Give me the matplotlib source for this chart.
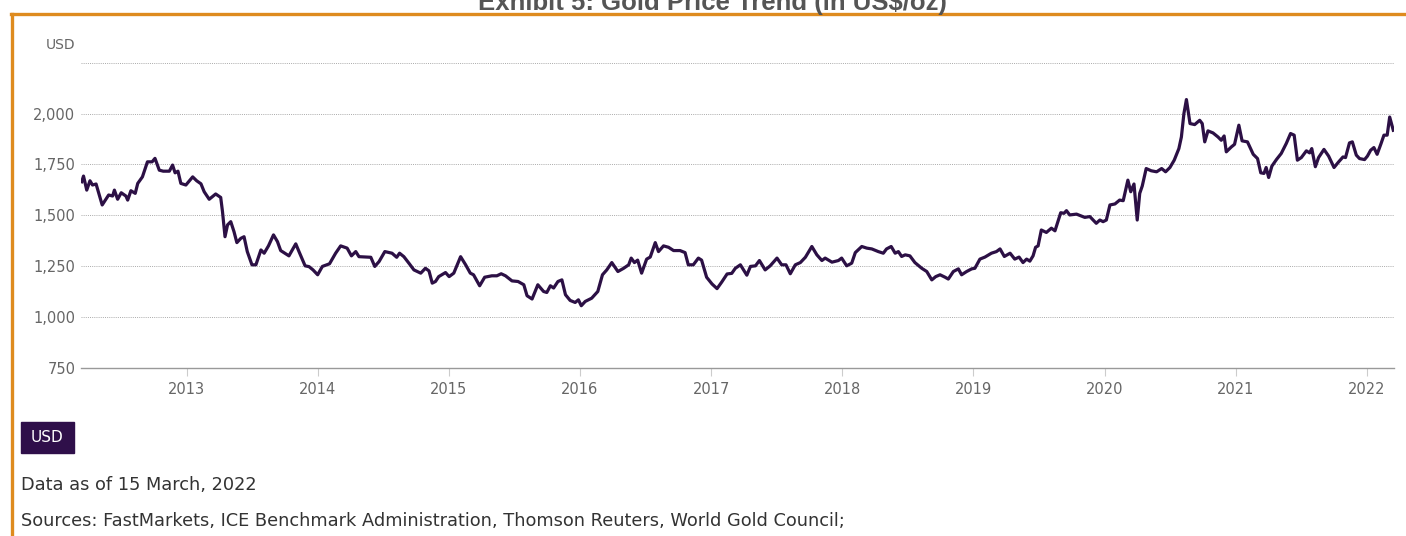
import matplotlib
matplotlib.use("Agg")
import matplotlib.pyplot as plt
import matplotlib.dates as mdates
from matplotlib.ticker import FuncFormatter, FixedLocator
from matplotlib.patches import Rectangle
from matplotlib.lines import Line2D
import pandas as pd

# ---- data (USD/oz) ----
dates = [
    "2012-03-15", "2012-03-20", "2012-03-29", "2012-04-07", "2012-04-14", "2012-04-24",
    "2012-05-11", "2012-05-29", "2012-06-09", "2012-06-14", "2012-06-23", "2012-07-03",
    "2012-07-16", "2012-07-21", "2012-07-30", "2012-08-11", "2012-08-18", "2012-08-31",
    "2012-09-14", "2012-09-27", "2012-10-05", "2012-10-17", "2012-10-28", "2012-11-14",
    "2012-11-23", "2012-11-30", "2012-12-08", "2012-12-16", "2012-12-30",
    "2013-01-18", "2013-01-29", "2013-02-10", "2013-02-19", "2013-03-05", "2013-03-23",
    "2013-04-06", "2013-04-11", "2013-04-18", "2013-04-25", "2013-05-04", "2013-05-13",
    "2013-05-21", "2013-06-01", "2013-06-10", "2013-06-19", "2013-07-02", "2013-07-13",
    "2013-07-27", "2013-08-05", "2013-08-17", "2013-08-31", "2013-09-11", "2013-09-20",
    "2013-10-13", "2013-11-01", "2013-11-10", "2013-11-27", "2013-12-08", "2013-12-19",
    "2014-01-01", "2014-01-14", "2014-02-03", "2014-02-20", "2014-03-06", "2014-03-24",
    "2014-04-05", "2014-04-17", "2014-04-26", "2014-05-29", "2014-06-09", "2014-06-21",
    "2014-07-07", "2014-07-27", "2014-08-09", "2014-08-17", "2014-08-29", "2014-09-12",
    "2014-09-26", "2014-10-15", "2014-10-28", "2014-11-07", "2014-11-16", "2014-11-25",
    "2014-12-04", "2014-12-23",
    "2015-01-02", "2015-01-15", "2015-02-03", "2015-02-17", "2015-03-02", "2015-03-11",
    "2015-03-28", "2015-04-11", "2015-05-01", "2015-05-15", "2015-05-27", "2015-06-08",
    "2015-06-26", "2015-07-13", "2015-07-29", "2015-08-07", "2015-08-21", "2015-09-06",
    "2015-09-22", "2015-10-01", "2015-10-11", "2015-10-20", "2015-11-01", "2015-11-12",
    "2015-11-22", "2015-12-05", "2015-12-19", "2015-12-28",
    "2016-01-05", "2016-01-16", "2016-02-03", "2016-02-20", "2016-03-04", "2016-03-16",
    "2016-03-30", "2016-04-16", "2016-05-02", "2016-05-16", "2016-05-23", "2016-06-01",
    "2016-06-10", "2016-06-21", "2016-07-05", "2016-07-15", "2016-07-29", "2016-08-07",
    "2016-08-21", "2016-09-04", "2016-09-18", "2016-10-06", "2016-10-20", "2016-10-29",
    "2016-11-12", "2016-11-26", "2016-12-05", "2016-12-19",
    "2017-01-03", "2017-01-17", "2017-01-30", "2017-02-14", "2017-02-27", "2017-03-09",
    "2017-03-23", "2017-04-10", "2017-04-20", "2017-05-04", "2017-05-15", "2017-05-31",
    "2017-06-14", "2017-07-03", "2017-07-16", "2017-07-28", "2017-08-09", "2017-08-23",
    "2017-09-06", "2017-09-20", "2017-10-08", "2017-10-22", "2017-11-05", "2017-11-14",
    "2017-12-03", "2017-12-21", "2017-12-30",
    "2018-01-13", "2018-01-27", "2018-02-06", "2018-02-24", "2018-03-10", "2018-03-24",
    "2018-04-11", "2018-04-25", "2018-05-04", "2018-05-17", "2018-05-28", "2018-06-06",
    "2018-06-15", "2018-06-25", "2018-07-08", "2018-07-22", "2018-08-10", "2018-08-24",
    "2018-09-07", "2018-09-18", "2018-09-30", "2018-10-14", "2018-10-23", "2018-11-06",
    "2018-11-20", "2018-11-29", "2018-12-13", "2018-12-27",
    "2019-01-05", "2019-01-19", "2019-02-02", "2019-02-20", "2019-03-06", "2019-03-16",
    "2019-03-28", "2019-04-13", "2019-04-26", "2019-05-08", "2019-05-19", "2019-05-29",
    "2019-06-07", "2019-06-16", "2019-06-23", "2019-06-30", "2019-07-09", "2019-07-23",
    "2019-08-06", "2019-08-16", "2019-09-01", "2019-09-10", "2019-09-17", "2019-09-26",
    "2019-10-15", "2019-11-07", "2019-11-21", "2019-12-09", "2019-12-19", "2019-12-28",
    "2020-01-06", "2020-01-16", "2020-01-30", "2020-02-12", "2020-02-22", "2020-03-06",
    "2020-03-14", "2020-03-23", "2020-04-01", "2020-04-08", "2020-04-15", "2020-04-26",
    "2020-05-10", "2020-05-25", "2020-06-08", "2020-06-19", "2020-07-01", "2020-07-13",
    "2020-07-26", "2020-08-02", "2020-08-09", "2020-08-16", "2020-08-26", "2020-09-08",
    "2020-09-22", "2020-09-29", "2020-10-06", "2020-10-15", "2020-10-29", "2020-11-12",
    "2020-11-21", "2020-11-29", "2020-12-05", "2020-12-19", "2020-12-28",
    "2021-01-09", "2021-01-18", "2021-02-02", "2021-02-18", "2021-03-02", "2021-03-11",
    "2021-03-20", "2021-03-26", "2021-04-02", "2021-04-11", "2021-04-24", "2021-05-07",
    "2021-05-21", "2021-06-02", "2021-06-12", "2021-06-21", "2021-07-02", "2021-07-16",
    "2021-07-25", "2021-07-31", "2021-08-10", "2021-08-19", "2021-09-03", "2021-09-16",
    "2021-10-01", "2021-10-14", "2021-10-26", "2021-11-02", "2021-11-13", "2021-11-21",
    "2021-12-02", "2021-12-11", "2021-12-25",
    "2022-01-02", "2022-01-11", "2022-01-20", "2022-01-29", "2022-02-09", "2022-02-17",
    "2022-02-26", "2022-03-05", "2022-03-15",
]
prices = [
    1665, 1693, 1624, 1670, 1649, 1654,
    1551, 1600, 1595, 1624, 1579, 1611,
    1595, 1575, 1621, 1608, 1657, 1689,
    1763, 1763, 1780, 1722, 1717, 1717,
    1747, 1709, 1717, 1657, 1649,
    1689, 1670, 1655, 1616, 1579, 1605,
    1588, 1518, 1395, 1453, 1469, 1420,
    1366, 1387, 1395, 1322, 1257, 1257,
    1330, 1314, 1350, 1404, 1371, 1327,
    1301, 1360, 1322, 1252, 1248, 1232,
    1208, 1249, 1262, 1314, 1350, 1339,
    1301, 1322, 1297, 1294, 1249, 1273,
    1322, 1314, 1294, 1314, 1297, 1265,
    1232, 1216, 1240, 1227, 1167, 1175,
    1199, 1219,
    1199, 1216, 1297, 1257, 1216, 1208,
    1154, 1196, 1203, 1203, 1213, 1203,
    1178, 1175, 1159, 1105, 1089, 1159,
    1126, 1121, 1154, 1143, 1175, 1183,
    1110, 1082, 1072, 1085,
    1056, 1077, 1093, 1126, 1208, 1232,
    1268, 1224, 1240, 1257, 1290, 1268,
    1280, 1216, 1285, 1295, 1366, 1322,
    1350, 1343, 1327, 1327, 1317, 1257,
    1257, 1290, 1280, 1196,
    1163, 1140, 1172, 1212, 1215, 1240,
    1257, 1206, 1249, 1252, 1278, 1232,
    1252, 1290, 1257, 1257, 1213, 1257,
    1268, 1294, 1347, 1306, 1278, 1290,
    1270, 1278, 1290,
    1252, 1265, 1317, 1347, 1339, 1335,
    1322, 1314, 1335, 1347, 1314, 1322,
    1298, 1306, 1301, 1268, 1240, 1224,
    1183, 1199, 1208, 1196, 1187, 1224,
    1237, 1208, 1224, 1237,
    1240, 1285, 1295, 1314, 1322, 1335,
    1298, 1314, 1285, 1295, 1268, 1285,
    1275, 1301, 1343, 1350, 1428, 1416,
    1437, 1424, 1513, 1510, 1523, 1502,
    1506, 1490, 1494, 1461, 1477, 1469,
    1477, 1551, 1556, 1575, 1572, 1673,
    1616, 1654, 1477, 1608, 1644, 1730,
    1719, 1714, 1730, 1714, 1735, 1771,
    1828, 1885, 2000, 2069, 1951, 1946,
    1967, 1951, 1861, 1915, 1905, 1885,
    1869, 1890, 1812, 1836, 1849,
    1943, 1866, 1861, 1800, 1779, 1709,
    1706, 1735, 1686, 1742, 1775, 1804,
    1853, 1902, 1894, 1771, 1784, 1817,
    1807, 1828, 1739, 1784, 1824, 1791,
    1735, 1763, 1787, 1784, 1856, 1861,
    1796, 1779, 1774,
    1791, 1820, 1833, 1800, 1853, 1894,
    1894, 1983, 1918,
]
y_ticks = [750, 1000, 1250, 1500, 1750, 2000, 2250]

line_color = "#2c1045"
tick_color = "#666666"
border_color = "#de8b1f"

dt = pd.to_datetime(dates)

fig = plt.figure(figsize=(14.06, 5.36), dpi=100)
W, H = 1406, 536

# plot area in pixels: x 81..1394, y 62.7 (2250) .. 368 (750)
ax = fig.add_axes([81 / W, 1 - 368 / H, (1394 - 81) / W, (368 - 62.7) / H])
ax.plot(dt, prices, color=line_color, lw=2.3, solid_joinstyle="round")

ax.set_xlim(pd.Timestamp("2012-03-13"), pd.Timestamp("2022-03-17"))
ax.set_ylim(750, 2250)

ax.yaxis.set_major_locator(FixedLocator(y_ticks))
ax.yaxis.set_major_formatter(FuncFormatter(lambda v, p: "" if v == 2250 else f"{int(v):,}"))
ax.xaxis.set_major_locator(mdates.YearLocator())
ax.xaxis.set_major_formatter(mdates.DateFormatter("%Y"))

for s in ["top", "right", "left"]:
    ax.spines[s].set_visible(False)
ax.spines["bottom"].set_color("#999999")
ax.spines["bottom"].set_linewidth(1.0)

ax.tick_params(axis="y", length=0, pad=4, labelsize=10.5, labelcolor=tick_color)
ax.tick_params(axis="x", length=6, width=0.8, color="#cccccc", pad=4,
               labelsize=10.5, labelcolor=tick_color)
ax.yaxis.grid(True, linestyle=(0, (1, 1.2)), linewidth=0.7, color="#aaaaaa")
ax.set_axisbelow(True)

# "USD" unit label above the axis
fig.text(75 / W, 1 - 45 / H, "USD", ha="right", va="center", fontsize=10, color=tick_color)

# title, partly cut off at the top (as in the reference screenshot)
fig.text(0.507, 1 - 10 / H, "Exhibit 5: Gold Price Trend (in US$/oz)", ha="center",
         va="baseline", fontsize=18.5, fontweight="bold", color="#555555",
         family="Liberation Sans")

# orange frame
fig.add_artist(Line2D([11 / W, 1], [1 - 13.5 / H, 1 - 13.5 / H], color=border_color,
                      lw=2.4, transform=fig.transFigure))
fig.add_artist(Line2D([12 / W, 12 / W], [0, 1 - 13.5 / H], color=border_color,
                      lw=2.4, transform=fig.transFigure))

# legend chip
fig.add_artist(Rectangle((21 / W, 1 - 453 / H), 53 / W, 31 / H, color="#2f0f4a",
                         transform=fig.transFigure))
fig.text(47.5 / W, 1 - 437.5 / H, "USD", ha="center", va="center", fontsize=11, color="white")

fig.text(21 / W, 1 - 485 / H, "Data as of 15 March, 2022", ha="left", va="center",
         fontsize=12.8, color="#333333")
fig.text(21 / W, 1 - 521 / H,
         "Sources: FastMarkets, ICE Benchmark Administration, Thomson Reuters, World Gold Council;",
         ha="left", va="center", fontsize=12.8, color="#333333")

fig.savefig("out.png", dpi=100)
